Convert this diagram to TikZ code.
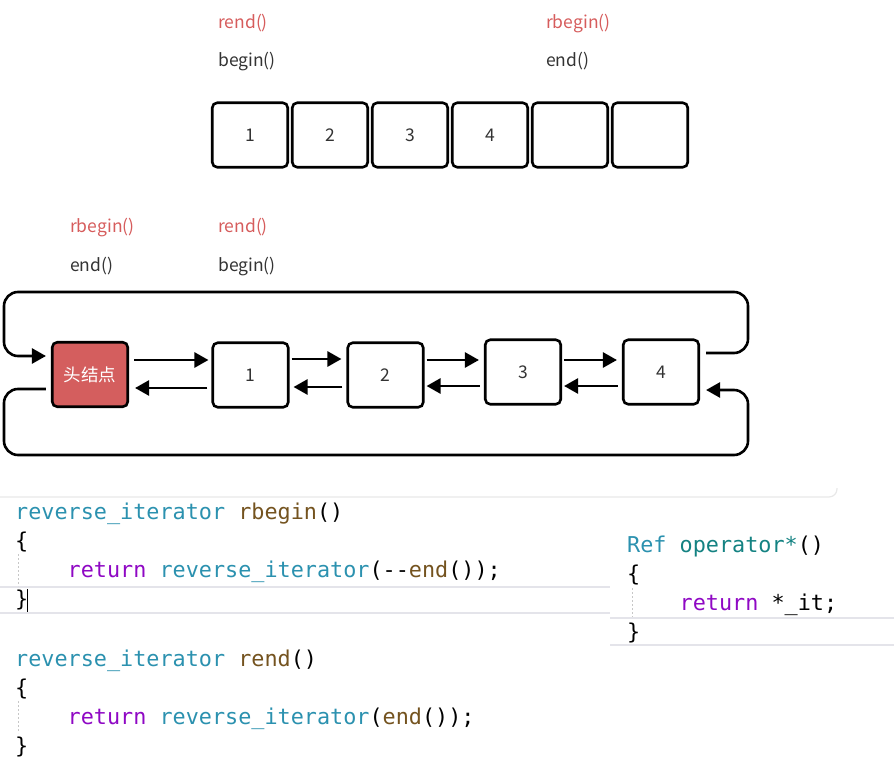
\documentclass[tikz,border=0pt]{standalone}
\usepackage{fontspec}
\newfontfamily\cjk{Noto Sans CJK SC}
\newfontfamily\codefont{DejaVu Sans Mono}
\usepackage{tikz}
\usetikzlibrary{arrows.meta,positioning}
\definecolor{itred}{RGB}{214,92,92}
\definecolor{headred}{RGB}{212,94,94}
\definecolor{txtgray}{RGB}{51,51,51}
\definecolor{typeblue}{RGB}{43,145,175}
\definecolor{funcbrown}{RGB}{116,83,31}
\definecolor{kwpurple}{RGB}{143,8,196}
\definecolor{opteal}{RGB}{20,130,130}
\definecolor{rulegray}{RGB}{228,228,234}

\begin{document}
\begin{tikzpicture}[
  x=1pt,y=-1pt,
  node distance=1.9pt,
  cell/.style={rectangle,draw=black,line width=2.6pt,rounded corners=5pt,
               minimum width=75.5pt,minimum height=64.5pt,inner sep=0pt,
               font=\cjk\fontsize{17.5}{20}\selectfont,text=txtgray},
  headnode/.style={cell,fill=headred,text=white},
  arrow/.style={-{Triangle[length=14pt,width=15pt]},line width=2.6pt},
  fwd/.style={arrow,shorten <=2pt,shorten >=5pt},
  back/.style={arrow,shorten <=4pt,shorten >=4pt},
  loop/.style={arrow,rounded corners=14pt},
  itlabel/.style={anchor=base west,inner sep=0pt,font=\cjk\fontsize{17.5}{20}\selectfont,text=itred},
  poslabel/.style={itlabel,text=txtgray},
  code/.style={anchor=base west,inner sep=0pt,font=\codefont\fontsize{21.8}{26}\selectfont},
  guide/.style={draw=black!22,line width=1pt,dash pattern=on 2pt off 2pt},
  hline/.style={draw=rulegray,line width=1.8pt},
  panel/.style={draw=black!9,line width=1.2pt,rounded corners=8pt},
]
\useasboundingbox (0,0) rectangle (894,781);

\node[cell]                 (a1) at (250,135) {1};
\node[cell, right=of a1]    (a2) {2};
\node[cell, right=of a2]    (a3) {3};
\node[cell, right=of a3]    (a4) {4};
\node[cell, right=of a4]    (a5) {};
\node[cell, right=of a5]    (a6) {};

\node[itlabel]  (rendA)   at (218,29) {rend()};
\node[poslabel] (beginA)  at (218,67) {begin()};
\node[itlabel]  (rbeginA) at (546,29) {rbegin()};
\node[poslabel] (endA)    at (546,67) {end()};

\node[itlabel]  (rbeginB) at (70,232)  {rbegin()};
\node[poslabel] (endB)    at (70,271)  {end()};
\node[itlabel]  (rendB)   at (218,232) {rend()};
\node[poslabel] (beginB)  at (218,271) {begin()};

\node[headnode] (head) at (90,374.5)  {头结点};
\node[cell]     (n1)   at (250.5,375) {1};
\node[cell]     (n2)   at (385.5,375) {2};
\node[cell]     (n3)   at (523,372)   {3};
\node[cell]     (n4)   at (661,372)   {4};

\draw[fwd,shorten <=5pt,shorten >=3pt] ([yshift=14.5pt]head.east) -- ([yshift=14.5pt]head.east -| n1.west);
\draw[fwd] ([yshift=16pt]n1.east) -- ([yshift=16pt]n1.east -| n2.west);
\draw[fwd] ([yshift=15pt]n2.east) -- ([yshift=15pt]n2.east -| n3.west);
\draw[fwd] ([yshift=12pt]n3.east) -- ([yshift=12pt]n3.east -| n4.west);
\draw[back,shorten >=6pt] ([yshift=-13pt]n1.west) -- ([yshift=-13pt]n1.west -| head.east);
\draw[back] ([yshift=-12pt]n2.west) -- ([yshift=-12pt]n2.west -| n1.east);
\draw[back,shorten >=2pt] ([yshift=-14pt]n3.west) -- ([yshift=-14pt]n3.west -| n2.east);
\draw[back,shorten >=2pt] ([yshift=-14pt]n4.west) -- ([yshift=-14pt]n4.west -| n3.east);

\coordinate (tr) at (748,292);
\coordinate (tl) at (4,292);
\coordinate (bl) at (4,455);
\coordinate (br) at (748,455);
\draw[loop] ([xshift=6pt,yshift=19pt]n4.east) -| (tr) -- (tl) |- ([xshift=-5pt,yshift=18.5pt]head.west);
\draw[loop] ([xshift=-5pt,yshift=-14.5pt]head.west) -| (bl) -- (br) |- ([xshift=6pt,yshift=-18pt]n4.east);

\draw[panel] (0,497) -- (837,497) -- (837,488);
\draw[hline] (0,587) -- (610,587);
\draw[hline] (0,613) -- (610,613);
\draw[hline] (610,618) -- (894,618);
\draw[hline] (610,645) -- (894,645);
\draw[guide] (18,554) -- (18,586);
\draw[guide] (18,701) -- (18,733);
\draw[guide] (632,588) -- (632,617);

\node[code] (rb1) at (15,519)   {\textcolor{typeblue}{reverse\_iterator} \textcolor{funcbrown}{rbegin}()};
\node[code] (rb2) at (15,548)   {\{};
\node[code] (rb3) at (67.5,577) {\textcolor{kwpurple}{return} \textcolor{typeblue}{reverse\_iterator}(-\kern0pt-\textcolor{funcbrown}{end}());};
\node[code] (rb4) at (15,606)   {\}};
\draw[line width=1pt] (27.5,589) -- (27.5,612);

\node[code] (re1) at (15,666)   {\textcolor{typeblue}{reverse\_iterator} \textcolor{funcbrown}{rend}()};
\node[code] (re2) at (15,695)   {\{};
\node[code] (re3) at (67.5,724) {\textcolor{kwpurple}{return} \textcolor{typeblue}{reverse\_iterator}(\textcolor{funcbrown}{end}());};
\node[code] (re4) at (15,753)   {\}};

\node[code] (op1) at (627,552)   {\textcolor{typeblue}{Ref} \textcolor{opteal}{operator*}()};
\node[code] (op2) at (627,581)   {\{};
\node[code] (op3) at (679.5,610) {\textcolor{kwpurple}{return} *\_it;};
\node[code] (op4) at (627,639)   {\}};

\end{tikzpicture}
\end{document}
